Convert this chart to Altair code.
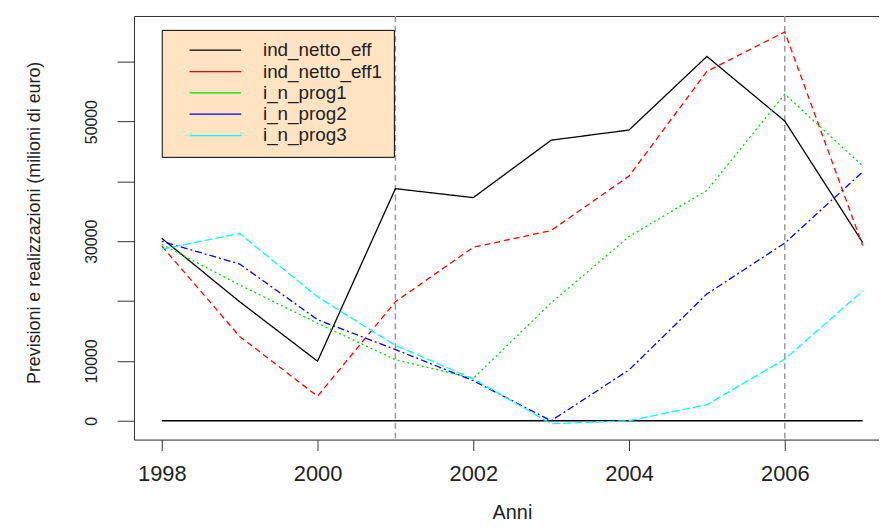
import altair as alt
import pandas as pd

years = [1998, 1999, 2000, 2001, 2002, 2003, 2004, 2005, 2006, 2007]
series_names = ["ind_netto_eff", "ind_netto_eff1", "i_n_prog1", "i_n_prog2", "i_n_prog3"]
line_types = ["solid", "dashed", "dotted", "dotdash", "longdash"]
ind_netto_eff = [30500, 19900, 9950, 38800, 37300, 46900, 48600, 60900, 50100, 29800]
ind_netto_eff1 = [29200, 14100, 4100, 19900, 29000, 31800, 40900, 58400, 65000, 29300]
i_n_prog1 = [29500, 22700, 16300, 10200, 7100, 19700, 30800, 38500, 54600, 42600]
i_n_prog2 = [30000, 26200, 16900, 11900, 6700, 0, 8500, 21200, 29700, 41600]
i_n_prog3 = [28700, 31300, 20700, 12600, 7000, -500, 0, 2700, 10300, 21700]
zero_line = [0, 0]
zero_years = [1998, 2007]
vlines = [2001, 2006]

colors = ["#000000", "#FF0000", "#00DD00", "#0000FF", "#00FFFF"]
dashes = [[1, 0], [6, 4], [2, 3], [2, 3, 7, 3], [8, 3]]

rows = []
for name, lt, vals in zip(series_names, line_types,
                          [ind_netto_eff, ind_netto_eff1, i_n_prog1, i_n_prog2, i_n_prog3]):
    for y, v in zip(years, vals):
        rows.append({"anno": y, "valore": v, "serie": name, "stile": lt})
df = pd.DataFrame(rows)
zero_df = pd.DataFrame({"anno": [zero_years[0]], "anno2": [zero_years[1]], "valore": [zero_line[0]]})
vl_df = pd.DataFrame({"anno": vlines})

FONT = "Liberation Sans"
xscale = alt.Scale(domain=[1997.643, 2007.21], nice=False, zero=False)
yscale = alt.Scale(domain=[-3150, 67660], nice=False, zero=False)

yaxis = alt.Axis(values=[0, 10000, 20000, 30000, 40000, 50000, 60000], format="d",
                 labelExpr="(datum.value == 20000 || datum.value == 40000 || datum.value == 60000) ? '' : datum.label",
                 labelOverlap=False, grid=False, tickSize=17, tickColor="#333333",
                 domainColor="#333333", labelAngle=270, labelAlign="center",
                 labelBaseline="alphabetic", labelPadding=21,
                 labelFontSize=16, labelFont=FONT, labelColor="#222222",
                 title="Previsioni e realizzazioni (milioni di euro)",
                 titleFont=FONT, titleFontSize=18, titleFontWeight="normal",
                 titleColor="#222222", titleAngle=270, titleX=-100, titleY=208,
                 titleAlign="center", titleBaseline="middle")

lines = alt.Chart(df).mark_line(strokeWidth=1.3).encode(
    x=alt.X("anno:Q", scale=xscale,
            axis=alt.Axis(values=[1998, 2000, 2002, 2004, 2006], format="d", title="Anni",
                          grid=False, tickSize=11, tickColor="#333333", domainColor="#333333",
                          labelFontSize=22, labelFont=FONT, labelColor="#222222",
                          labelBaseline="top", labelPadding=13, labelFlush=False,
                          titleFont=FONT, titleFontSize=20, titleFontWeight="normal",
                          titleColor="#222222", titleX=381, titleY=80,
                          titleAlign="center", titleBaseline="alphabetic")),
    y=alt.Y("valore:Q", scale=yscale, axis=yaxis),
    color=alt.Color("serie:N", scale=alt.Scale(domain=series_names, range=colors),
                    legend=alt.Legend(title=None, orient="none", legendX=28, legendY=14,
                                      fillColor="#FFE4C4", strokeColor="#000000",
                                      padding=11, symbolType="M-4,0H4", symbolSize=169,
                                      symbolStrokeWidth=1.3, symbolOffset=33.5, labelOffset=38.5,
                                      labelFontSize=19, labelFont=FONT, labelColor="#222222",
                                      rowPadding=1.5, labelLimit=400)),
    strokeDash=alt.StrokeDash("stile:N", scale=alt.Scale(domain=line_types, range=dashes), legend=None),
)

zero = alt.Chart(zero_df).mark_rule(color="#000000", strokeWidth=1.3).encode(
    x=alt.X("anno:Q", scale=xscale, axis=None), x2="anno2:Q",
    y=alt.Y("valore:Q", scale=yscale, axis=yaxis)
)

vr = alt.Chart(vl_df).mark_rule(color="#999999", strokeWidth=1.5, strokeDash=[6, 4]).encode(
    x=alt.X("anno:Q", scale=xscale,
            axis=alt.Axis(orient="top", labels=False, ticks=False, domain=True, grid=False,
                          title=None, domainColor="#333333"))
)

chart = alt.layer(vr, zero, lines).resolve_axis(x="independent").properties(
    width=751, height=427,
    autosize=alt.AutoSizeParams(type="none"),
    padding={"left": 127, "top": 6, "right": 0, "bottom": 81},
).configure_view(stroke=None).configure(background="white")

chart.save("out.html", embed_options={"renderer": "svg", "actions": False})
